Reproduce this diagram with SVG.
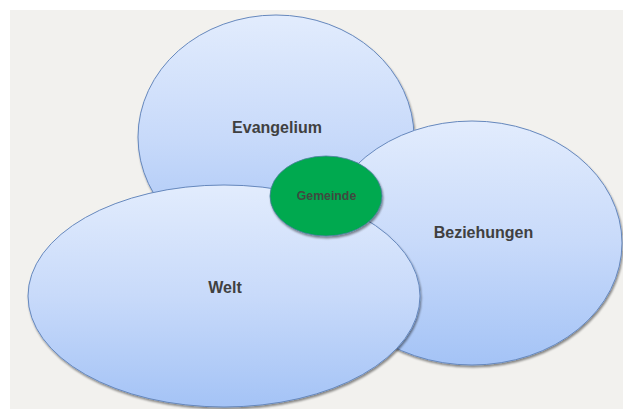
<svg xmlns="http://www.w3.org/2000/svg" width="623" height="409" viewBox="0 0 623 409">
  <defs>
    <linearGradient id="blue" x1="0" y1="0" x2="0" y2="1">
      <stop offset="0" stop-color="#e2ecfd"/>
      <stop offset="0.5" stop-color="#c8dafa"/>
      <stop offset="1" stop-color="#a4c3f6"/>
    </linearGradient>
    <filter id="shadow" x="-10%" y="-10%" width="120%" height="125%">
      <feGaussianBlur in="SourceAlpha" stdDeviation="1.2"/>
      <feOffset dx="0.8" dy="1.6" result="b"/>
      <feComponentTransfer><feFuncA type="linear" slope="0.45"/></feComponentTransfer>
      <feMerge><feMergeNode/><feMergeNode in="SourceGraphic"/></feMerge>
    </filter>
  </defs>
  <style>
    .bubble { fill: url(#blue); stroke: #6688bd; stroke-width: 1; filter: url(#shadow); }
    .core { fill: #00a94f; stroke: #4e7fa0; stroke-width: 0.8; filter: url(#shadow); }
    .label { font-family: "Liberation Sans", Arial, sans-serif; font-weight: bold; font-size: 16px; fill: #404040; text-anchor: middle; }
    .small { font-size: 12.3px; fill: #3f4a40; }
  </style>
  <rect x="0" y="0" width="623" height="409" fill="#ffffff"/>
  <rect x="10" y="10" width="613" height="399" fill="#f2f1ee"/>
  <g id="evangelium">
    <ellipse class="bubble" cx="276" cy="137" rx="138" ry="122"/>
    <text class="label" x="277" y="133">Evangelium</text>
  </g>
  <g id="beziehungen">
    <ellipse class="bubble" cx="472" cy="243" rx="150" ry="122"/>
    <text class="label" x="483.5" y="238">Beziehungen</text>
  </g>
  <g id="welt">
    <ellipse class="bubble" cx="224" cy="296" rx="196" ry="111"/>
    <text class="label" x="225" y="293">Welt</text>
  </g>
  <g id="gemeinde">
    <ellipse class="core" cx="326" cy="196" rx="56" ry="40"/>
    <text class="label small" x="326.5" y="200">Gemeinde</text>
  </g>
</svg>
